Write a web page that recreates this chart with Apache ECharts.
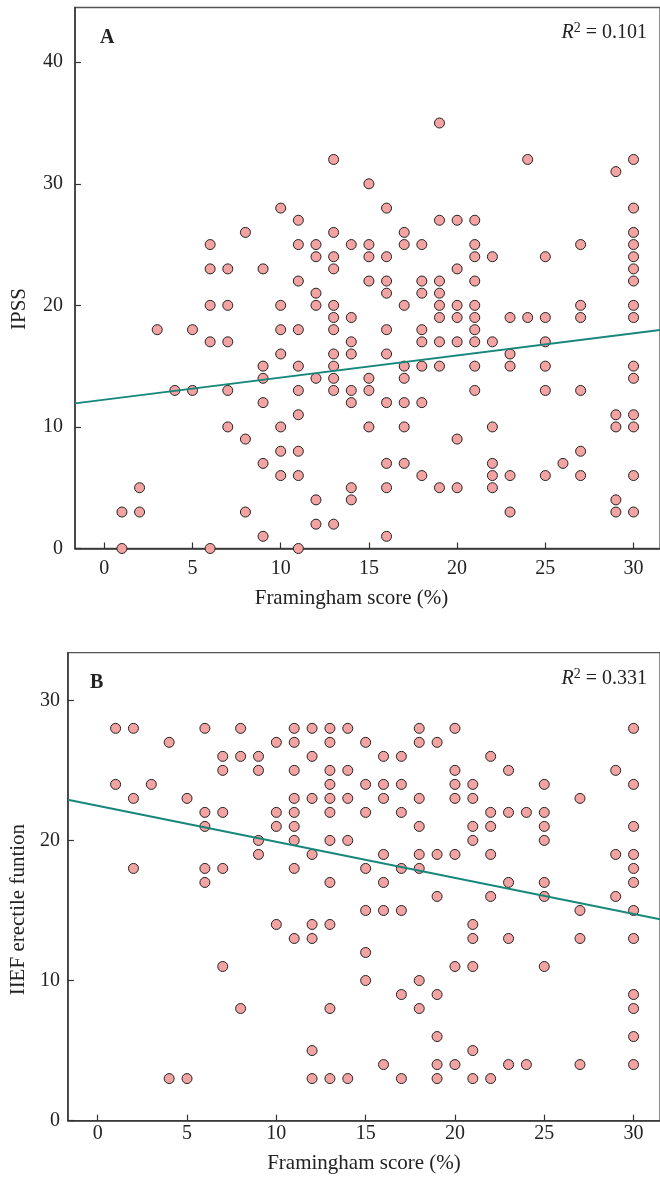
<!DOCTYPE html>
<html>
<head>
<meta charset="utf-8">
<script src="https://cdn.jsdelivr.net/npm/echarts@6/dist/echarts.min.js"></script>
<style>html,body{margin:0;padding:0;background:#fff}#c{width:660px;height:1178px}</style>
</head>
<body>
<div id="c"></div>
<script>
// Panel A: Framingham score (%) vs IPSS
const pointsA = [
  [1,3],[1,0],
  [2,5],[2,3],
  [3,18],
  [4,13],
  [5,18],[5,13],
  [6,25],[6,23],[6,20],[6,17],[6,0],
  [7,23],[7,20],[7,17],[7,13],[7,10],
  [8,26],[8,9],[8,3],
  [9,23],[9,15],[9,14],[9,12],[9,7],[9,1],
  [10,28],[10,20],[10,18],[10,16],[10,10],[10,8],[10,6],
  [11,27],[11,25],[11,22],[11,18],[11,15],[11,13],[11,11],[11,8],[11,6],[11,0],
  [12,25],[12,24],[12,21],[12,20],[12,14],[12,4],[12,2],
  [13,32],[13,26],[13,24],[13,23],[13,20],[13,19],[13,18],[13,16],[13,15],[13,14],[13,13],[13,2],
  [14,25],[14,19],[14,17],[14,16],[14,13],[14,12],[14,5],[14,4],
  [15,30],[15,25],[15,24],[15,22],[15,14],[15,13],[15,10],
  [16,28],[16,24],[16,22],[16,21],[16,18],[16,16],[16,12],[16,7],[16,5],[16,1],
  [17,26],[17,25],[17,20],[17,15],[17,14],[17,12],[17,10],[17,7],
  [18,25],[18,22],[18,21],[18,18],[18,17],[18,15],[18,12],[18,6],
  [19,35],[19,27],[19,22],[19,21],[19,20],[19,19],[19,17],[19,15],[19,5],
  [20,27],[20,23],[20,20],[20,19],[20,17],[20,9],[20,5],
  [21,27],[21,25],[21,24],[21,22],[21,20],[21,19],[21,18],[21,17],[21,15],[21,13],
  [22,24],[22,17],[22,10],[22,7],[22,6],[22,5],
  [23,19],[23,16],[23,15],[23,6],[23,3],
  [24,32],[24,19],
  [25,24],[25,19],[25,17],[25,15],[25,13],[25,6],
  [26,7],
  [27,25],[27,20],[27,19],[27,13],[27,8],[27,6],
  [29,31],[29,11],[29,10],[29,4],[29,3],
  [30,32],[30,28],[30,26],[30,25],[30,24],[30,23],[30,22],[30,20],[30,19],[30,15],[30,14],[30,11],[30,10],[30,6],[30,3]
];
// Panel B: Framingham score (%) vs IIEF erectile function
const pointsB = [
  [1,28],[1,24],
  [2,28],[2,23],[2,18],
  [3,24],
  [4,27],[4,3],
  [5,23],[5,3],
  [6,28],[6,22],[6,21],[6,18],[6,17],
  [7,26],[7,25],[7,22],[7,18],[7,11],
  [8,28],[8,26],[8,8],
  [9,26],[9,25],[9,20],[9,19],
  [10,27],[10,22],[10,21],[10,14],
  [11,28],[11,27],[11,25],[11,23],[11,22],[11,21],[11,20],[11,18],[11,13],
  [12,28],[12,26],[12,23],[12,19],[12,14],[12,13],[12,5],[12,3],
  [13,28],[13,27],[13,25],[13,24],[13,23],[13,22],[13,20],[13,17],[13,14],[13,8],[13,3],
  [14,28],[14,25],[14,23],[14,20],[14,3],
  [15,27],[15,24],[15,22],[15,18],[15,15],[15,12],[15,10],
  [16,26],[16,24],[16,23],[16,19],[16,17],[16,15],[16,4],
  [17,26],[17,24],[17,22],[17,18],[17,15],[17,9],[17,3],
  [18,28],[18,27],[18,23],[18,21],[18,19],[18,18],[18,10],[18,8],
  [19,27],[19,19],[19,16],[19,9],[19,6],[19,4],[19,3],
  [20,28],[20,25],[20,24],[20,23],[20,19],[20,11],[20,4],
  [21,24],[21,23],[21,21],[21,20],[21,14],[21,13],[21,11],[21,5],[21,3],
  [22,26],[22,22],[22,21],[22,19],[22,16],[22,3],
  [23,25],[23,22],[23,17],[23,13],[23,4],
  [24,22],[24,4],
  [25,24],[25,22],[25,21],[25,20],[25,17],[25,16],[25,11],
  [27,23],[27,15],[27,13],[27,4],
  [29,25],[29,19],[29,16],
  [30,28],[30,24],[30,21],[30,19],[30,18],[30,17],[30,15],[30,13],[30,9],[30,8],[30,6],[30,4]
];
// fitted lines: [intercept, slope]
const fitA = [12.24, 0.182];
const fitB = [22.47, -0.2575];
const xTicks = [0, 5, 10, 15, 20, 25, 30];
const yTicksA = [0, 10, 20, 30, 40];
const yTicksB = [0, 10, 20, 30];
const xRangeA = [-1.66, 31.5];
const xRangeB = [-1.67, 31.48];
const yMaxA = 44.5;
const yMaxB = 33.4;

const FONT = '"Liberation Serif", "DejaVu Serif", serif';
const PINK = '#F4A3A3';
const TEAL = '#17877A';
const AX = '#333';
const TXT = '#222';

function fitLine(fit, range) {
  return range.map(x => [x, fit[0] + fit[1] * x]);
}

function xAxisCfg(gridIndex, range, margin, nameGap, namePad) {
  return {
    type: 'value', gridIndex, min: range[0], max: range[1],
    name: 'Framingham score (%)', nameLocation: 'middle', nameGap,
    nameTextStyle: { fontFamily: FONT, fontSize: 21, color: TXT, padding: namePad },
    axisLine: { show: true, onZero: false, lineStyle: { color: AX, width: 1.5 } },
    axisTick: { show: true, inside: true, length: 6, customValues: xTicks, lineStyle: { color: AX, width: 1.2 } },
    axisLabel: { customValues: xTicks, fontFamily: FONT, fontSize: 20, color: TXT, margin },
    splitLine: { show: false }
  };
}
function yAxisCfg(gridIndex, max, ticks, name, margin, nameGap, namePad) {
  return {
    type: 'value', gridIndex, min: 0, max,
    name, nameLocation: 'middle', nameGap,
    nameTextStyle: { fontFamily: FONT, fontSize: 21, color: TXT, padding: namePad },
    axisLine: { show: true, onZero: false, lineStyle: { color: AX, width: 1.5 } },
    axisTick: { show: true, inside: true, length: 6, customValues: ticks, lineStyle: { color: AX, width: 1.2 } },
    axisLabel: { customValues: ticks, fontFamily: FONT, fontSize: 20, color: TXT, margin },
    splitLine: { show: false }
  };
}

const scatterStyle = {
  symbol: 'circle', symbolSize: 10,
  itemStyle: { color: PINK, borderColor: '#222', borderWidth: 1, opacity: 1 }
};

function r2Title(text, top) {
  return {
    text, right: 8, top,
    textStyle: { fontFamily: FONT, fontSize: 20, color: TXT, fontWeight: 'normal',
      rich: { i: { fontFamily: FONT, fontSize: 20, fontStyle: 'italic', color: TXT },
              n: { fontFamily: FONT, fontSize: 20, color: TXT },
              s: { fontFamily: FONT, fontSize: 14, color: TXT, verticalAlign: 'top', padding: [0, 0, 10, 0] } } }
  };
}

const chart = echarts.init(document.getElementById('c'), null, { renderer: 'canvas' });
chart.setOption({
  animation: false,
  backgroundColor: '#fff',
  title: [
    { text: 'A', left: 95, top: 23, textStyle: { fontFamily: FONT, fontSize: 20, fontWeight: 'bold', color: TXT } },
    r2Title('{i|R}{s|2}{n| = 0.101}', 16),
    { text: 'B', left: 85, top: 668, textStyle: { fontFamily: FONT, fontSize: 20, fontWeight: 'bold', color: TXT } },
    r2Title('{i|R}{s|2}{n| = 0.331}', 662)
  ],
  grid: [
    { left: 75, top: 7.5, right: -1, bottom: 629.5, show: true, borderColor: '#555', borderWidth: 1.3, containLabel: false },
    { left: 65, top: 652.7, right: -1, bottom: 57.4, show: true, borderColor: '#555', borderWidth: 1.3, containLabel: false }
  ],
  xAxis: [
    xAxisCfg(0, xRangeA, 10, 39, [0, 32, 0, 0]),
    xAxisCfg(1, xRangeB, 3, 32, [0, 0, 0, 0])
  ],
  yAxis: [
    yAxisCfg(0, yMaxA, yTicksA, 'IPSS', 12, 45, [0, 62, 0, 0]),
    yAxisCfg(1, yMaxB, yTicksB, 'IIEF erectile funtion', 8, 38, [0, 46, 0, 0])
  ],
  series: [
    Object.assign({ type: 'scatter', xAxisIndex: 0, yAxisIndex: 0, data: pointsA, z: 3 }, scatterStyle),
    { type: 'line', xAxisIndex: 0, yAxisIndex: 0, data: fitLine(fitA, xRangeA), symbol: 'none',
      lineStyle: { color: TEAL, width: 2 }, z: 4, silent: true },
    Object.assign({ type: 'scatter', xAxisIndex: 1, yAxisIndex: 1, data: pointsB, z: 3 }, scatterStyle),
    { type: 'line', xAxisIndex: 1, yAxisIndex: 1, data: fitLine(fitB, xRangeB), symbol: 'none',
      lineStyle: { color: TEAL, width: 2 }, z: 4, silent: true }
  ]
});
</script>
</body>
</html>
